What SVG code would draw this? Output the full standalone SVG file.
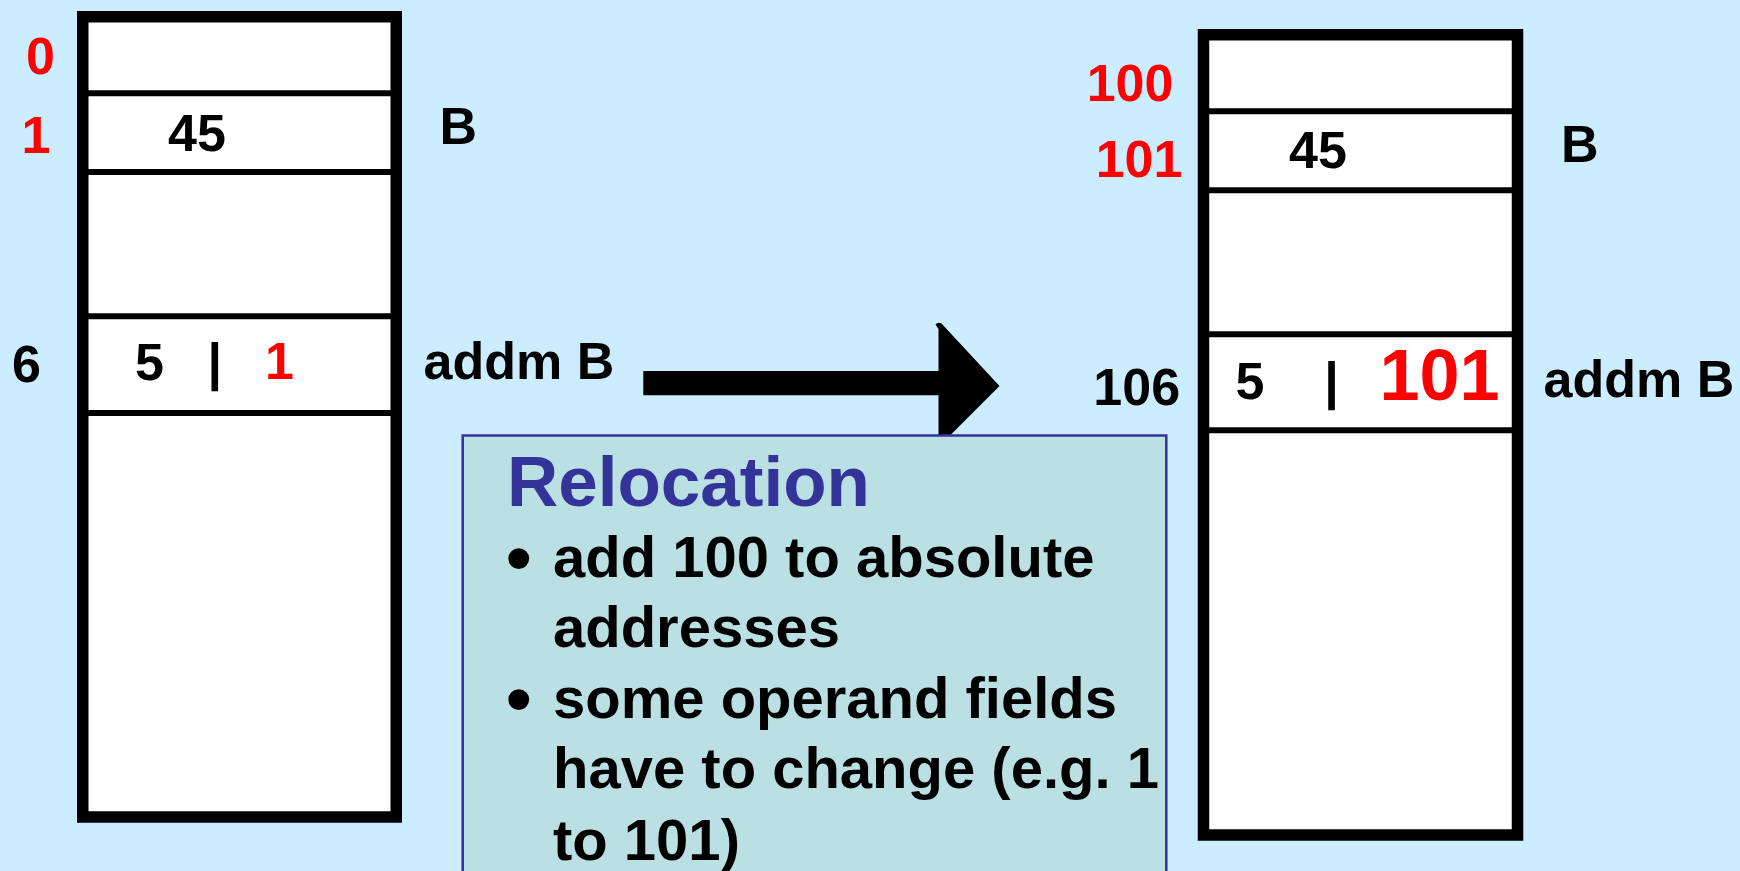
<svg xmlns="http://www.w3.org/2000/svg" width="1740" height="871" viewBox="0 0 1740 871">
  <style>
    text { font-family: "Liberation Sans", Arial, Helvetica, sans-serif; font-weight: bold; }
    .lbl { font-size: 52px; fill: #000000; }
    .red { fill: #FF0000; }
    .mem { fill: #FFFFFF; stroke: #000000; stroke-width: 11.5; }
    .cell { stroke: #000000; stroke-width: 6; }
    .title { font-size: 71px; fill: #333399; }
    .body { font-size: 58px; fill: #000000; }
    .bullet { font-size: 73px; fill: #000000; }
  </style>

  <!-- background -->
  <rect x="0" y="0" width="1740" height="871" fill="#CCECFF"/>

  <!-- memory image before relocation (addresses 0..) -->
  <g id="mem-before">
    <rect class="mem" x="82.75" y="16.75" width="313.5" height="800.25"/>
    <line class="cell" x1="88" y1="93.3" x2="391" y2="93.3"/>
    <line class="cell" x1="88" y1="172" x2="391" y2="172"/>
    <line class="cell" x1="88" y1="316.2" x2="391" y2="316.2"/>
    <line class="cell" x1="88" y1="413" x2="391" y2="413"/>
    <text class="lbl red" x="26" y="74">0</text>
    <text class="lbl red" x="21.5" y="152.7">1</text>
    <text class="lbl" x="168" y="150.7">45</text>
    <text class="lbl" x="439.5" y="144">B</text>
    <text class="lbl" x="12" y="381.7">6</text>
    <text class="lbl" x="135" y="380">5</text>
    <text class="lbl" x="207.6" y="380">|</text>
    <text class="lbl red" x="265" y="379">1</text>
    <text class="lbl" x="423.5" y="379">addm B</text>
  </g>

  <!-- memory image after relocation (addresses 100..) -->
  <g id="mem-after">
    <rect class="mem" x="1203.5" y="34.75" width="314" height="800.25"/>
    <line class="cell" x1="1209" y1="111.3" x2="1512" y2="111.3"/>
    <line class="cell" x1="1209" y1="190.2" x2="1512" y2="190.2"/>
    <line class="cell" x1="1209" y1="334.2" x2="1512" y2="334.2"/>
    <line class="cell" x1="1209" y1="430.3" x2="1512" y2="430.3"/>
    <text class="lbl red" x="1086.7" y="101">100</text>
    <text class="lbl red" x="1095.7" y="176.7">101</text>
    <text class="lbl" x="1289" y="167.7">45</text>
    <text class="lbl" x="1561" y="161.7">B</text>
    <text class="lbl" x="1093.3" y="405">106</text>
    <text class="lbl" x="1235.6" y="399.3">5</text>
    <text class="lbl" x="1324.3" y="399.3">|</text>
    <text class="lbl red" x="1379.5" y="400" style="font-size:72px">101</text>
    <text class="lbl" x="1543.5" y="396.7">addm B</text>
  </g>

  <!-- block arrow from the original image to the relocated one -->
  <g id="connectors">
    <path d="M643.3,371 H938.5 V329 L935.5,324.5 Q937.5,321.5 941.5,323.5 L999.5,386 L938.5,447 V395.3 H643.3 Z" fill="#000000"/>
  </g>

  <!-- explanation panel -->
  <g id="relocation-note">
    <rect x="462.7" y="435.5" width="703.6" height="460" fill="#BBE0E3" stroke="#333399" stroke-width="2.5"/>
    <text class="title" x="507" y="506">Relocation</text>
    <text class="bullet" x="506" y="582.3">•</text>
    <text class="body" x="553" y="577.3">add 100 to absolute</text>
    <text class="body" x="553" y="647.3">addresses</text>
    <text class="bullet" x="506" y="723.3">•</text>
    <text class="body" x="553" y="718.3">some operand fields</text>
    <text class="body" x="553" y="788.3">have to change (e.g. 1</text>
    <text class="body" x="553" y="860">to 101)</text>
  </g>
</svg>
